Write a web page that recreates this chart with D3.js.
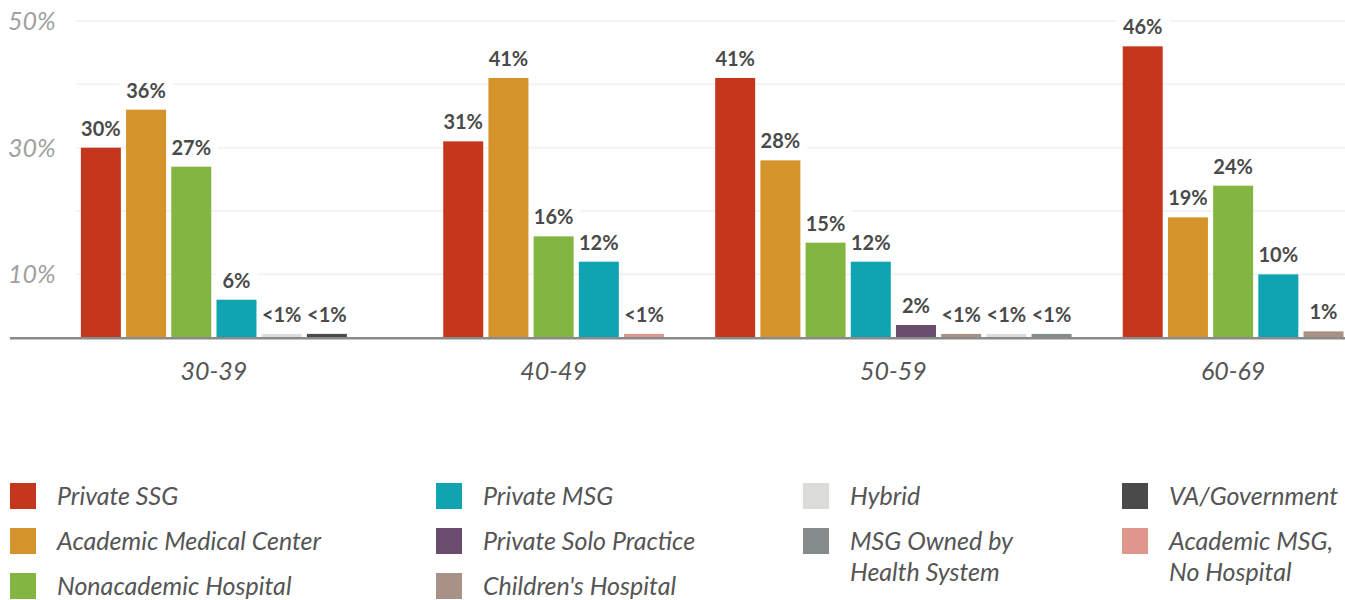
<!DOCTYPE html>
<html>
<head>
<meta charset="utf-8">
<script src="https://cdn.jsdelivr.net/npm/d3@7"></script>
<style>
  html, body { margin: 0; padding: 0; background: #fff; }
  svg { display: block; }
</style>
</head>
<body>
<svg id="chart" width="1345" height="600"></svg>
<script>
// Age groups along the x axis
const ageGroups = ["30-39", "40-49", "50-59", "60-69"];

// Practice types (legend order), share of respondents in % per age group; null = not reported
const seriesNames = [
  "Private SSG", "Academic Medical Center", "Nonacademic Hospital",
  "Private MSG", "Private Solo Practice", "Children's Hospital",
  "Hybrid", "MSG Owned by Health System", "VA/Government", "Academic MSG, No Hospital"
];
const privateSSG            = [30, 31, 41, 46];
const academicMedicalCenter = [36, 41, 28, 19];
const nonacademicHospital   = [27, 16, 15, 24];
const privateMSG            = [6, 12, 12, 10];
const privateSoloPractice   = [null, null, 2, null];
const childrensHospital     = [null, null, 0.6, 1];
const hybrid                = [0.6, null, 0.6, null];
const msgOwnedByHealthSys   = [null, null, 0.6, null];
const vaGovernment          = [0.6, null, null, null];
const academicMSGNoHospital = [null, 0.6, null, null];

const seriesValues = [
  privateSSG, academicMedicalCenter, nonacademicHospital, privateMSG,
  privateSoloPractice, childrensHospital, hybrid, msgOwnedByHealthSys,
  vaGovernment, academicMSGNoHospital
];

const seriesColors = [
  "#c4371d", "#d4932b", "#82b541", "#10a3b2", "#694c6e",
  "#a89187", "#dcdcd8", "#858a8a", "#4a4a4a", "#df968d"
];

// Axis tick values and their labels
const gridTicks = [10, 20, 30, 40, 50];
const labeledTicks = [10, 30, 50];

// Legend layout: columns of series indices
const legendColumns = [[0, 1, 2], [3, 4, 5], [6, 7], [8, 9]];
const legendLines = {
  "MSG Owned by Health System": ["MSG Owned by", "Health System"],
  "Academic MSG, No Hospital": ["Academic MSG,", "No Hospital"]
};

const svg = d3.select("#chart");
const FONT = "Lato, 'Open Sans', sans-serif";

const y = d3.scaleLinear().domain([0, 50]).range([337.7, 21]);
const x0 = d3.scaleBand().domain(ageGroups).range([44, 1403]).padding(0);
const step = 45.2;
const gapRatio = 5.2 / 45.2;

// Gridlines
svg.append("g").selectAll("line").data(gridTicks).join("line")
  .attr("x1", 76).attr("x2", 1345)
  .attr("y1", d => y(d)).attr("y2", d => y(d))
  .attr("stroke", "#f3f3f3").attr("stroke-width", 2);

// Y tick labels
svg.append("g").selectAll("text").data(labeledTicks).join("text")
  .attr("x", 8).attr("y", d => y(d))
  .attr("dy", "0.36em")
  .attr("font-family", FONT).attr("font-style", "italic").attr("font-weight", 400)
  .attr("font-size", 25).attr("fill", "#a0a0a0")
  .text(d => d + "%");

// Build bar records per group
const bars = [];
ageGroups.forEach((g, gi) => {
  const present = seriesNames.map((s, si) => si).filter(si => seriesValues[si][gi] != null);
  const c = x0(g) + x0.bandwidth() / 2;
  const x1 = d3.scaleBand().domain(present)
    .range([c - present.length * step / 2, c + present.length * step / 2])
    .paddingInner(gapRatio).paddingOuter(gapRatio / 2);
  present.forEach(si => {
    const v = seriesValues[si][gi];
    bars.push({
      group: g, series: si, value: v,
      x: x1(si), w: x1.bandwidth(),
      label: v < 1 ? "<1%" : v + "%"
    });
  });
});

// White plates behind value labels mask the gridlines; bars sit above them
const plates = svg.append("g");
const barLayer = svg.append("g");

barLayer.selectAll("rect").data(bars).join("rect")
  .attr("x", d => d.x).attr("width", d => d.w)
  .attr("y", d => y(d.value)).attr("height", d => y(0) - y(d.value))
  .attr("fill", d => seriesColors[d.series]);

const texts = svg.append("g").selectAll("text").data(bars).join("text")
  .attr("x", d => d.x + d.w / 2)
  .attr("y", d => y(d.value) - 12)
  .attr("text-anchor", "middle")
  .attr("font-family", FONT).attr("font-weight", 700)
  .attr("font-size", 20).attr("fill", "#4a4a4a")
  .text(d => d.label);

texts.each(function () {
  const b = this.getBBox();
  plates.append("rect")
    .attr("x", b.x - 7).attr("y", b.y - 2)
    .attr("width", b.width + 14).attr("height", b.height + 2)
    .attr("fill", "#fff");
});

// Baseline axis
svg.append("line")
  .attr("x1", 10).attr("x2", 1345)
  .attr("y1", y(0) + 0.5).attr("y2", y(0) + 0.5)
  .attr("stroke", "#8a8a8a").attr("stroke-width", 2.5);

// Age group labels
svg.append("g").selectAll("text").data(ageGroups).join("text")
  .attr("x", d => x0(d) + x0.bandwidth() / 2)
  .attr("y", 380)
  .attr("text-anchor", "middle")
  .attr("font-family", FONT).attr("font-style", "italic").attr("font-weight", 400)
  .attr("font-size", 25).attr("fill", "#555")
  .text(d => d);

// Legend
const colX = [10, 436, 803, 1122];
const rowY = [496, 541, 586];
const legend = svg.append("g");
legendColumns.forEach((col, ci) => {
  col.forEach((si, ri) => {
    const item = legend.append("g");
    item.append("rect")
      .attr("x", colX[ci]).attr("y", rowY[ri] - 13)
      .attr("width", 26).attr("height", 26)
      .attr("fill", seriesColors[si]);
    const lines = legendLines[seriesNames[si]] || [seriesNames[si]];
    const t = item.append("text")
      .attr("font-family", FONT).attr("font-style", "italic").attr("font-weight", 400)
      .attr("font-size", 25).attr("fill", "#555");
    lines.forEach((ln, li) => {
      t.append("tspan")
        .attr("x", colX[ci] + 47)
        .attr("y", rowY[ri] + 9 + li * 31)
        .text(ln);
    });
  });
});
</script>
</body>
</html>
